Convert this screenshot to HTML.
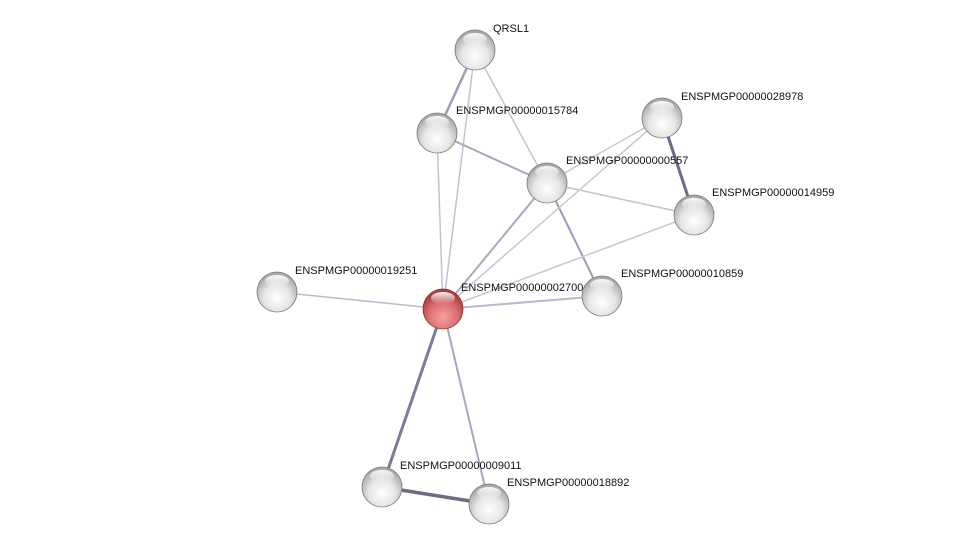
<!DOCTYPE html>
<html><head><meta charset="utf-8"><style>
html,body{margin:0;padding:0;background:#fff;}
svg{display:block}
text{font-family:"Liberation Sans",sans-serif;font-size:11px;fill:#111;}
</style></head><body>
<svg width="975" height="549" viewBox="0 0 975 549" xmlns="http://www.w3.org/2000/svg">
<defs>
<radialGradient id="g" cx="50%" cy="65%" r="60%">
<stop offset="0" stop-color="#ffffff"/><stop offset="0.55" stop-color="#e6e6e6"/><stop offset="1" stop-color="#a8a8a8"/>
</radialGradient>
<radialGradient id="r" cx="50%" cy="70%" r="60%">
<stop offset="0" stop-color="#f4a0a0"/><stop offset="0.6" stop-color="#dc7070"/><stop offset="1" stop-color="#a84040"/>
</radialGradient>
<linearGradient id="h" x1="0" y1="0" x2="0" y2="1">
<stop offset="0" stop-color="#fff" stop-opacity="0.95"/><stop offset="1" stop-color="#fff" stop-opacity="0"/>
</linearGradient>
</defs>
<g stroke-linecap="round">
<line x1="475" y1="50" x2="437" y2="133" stroke="#9a9cb8" stroke-width="2.5"/>
<line x1="475" y1="50" x2="547" y2="183" stroke="#c0c2d2" stroke-width="1.5"/>
<line x1="475" y1="50" x2="443" y2="309" stroke="#c0c2d2" stroke-width="1.5"/>
<line x1="437" y1="133" x2="547" y2="183" stroke="#a6a8c0" stroke-width="2"/>
<line x1="437" y1="133" x2="443" y2="309" stroke="#c0c2d2" stroke-width="1.5"/>
<line x1="547" y1="183" x2="443" y2="309" stroke="#a6a8c0" stroke-width="2"/>
<line x1="547" y1="183" x2="602" y2="296" stroke="#9a9cb8" stroke-width="2"/>
<line x1="547" y1="183" x2="694" y2="215" stroke="#c0c2d2" stroke-width="1.5"/>
<line x1="662" y1="118" x2="547" y2="183" stroke="#c4c6d6" stroke-width="1.5"/>
<line x1="662" y1="118" x2="443" y2="309" stroke="#c4c6d6" stroke-width="1.5"/>
<line x1="662" y1="118" x2="694" y2="215" stroke="#6a6c88" stroke-width="3"/>
<line x1="694" y1="215" x2="443" y2="309" stroke="#c4c6d6" stroke-width="1.5"/>
<line x1="277" y1="292" x2="443" y2="309" stroke="#b8bace" stroke-width="1.5"/>
<line x1="602" y1="296" x2="443" y2="309" stroke="#b8bace" stroke-width="2"/>
<line x1="443" y1="309" x2="382" y2="487" stroke="#7a7c98" stroke-width="3"/>
<line x1="443" y1="309" x2="489" y2="504" stroke="#a6a8c0" stroke-width="2"/>
<line x1="382" y1="487" x2="489" y2="504" stroke="#6a6c88" stroke-width="3.5"/>
</g>
<text x="493" y="32">QRSL1</text>
<text x="456" y="114">ENSPMGP00000015784</text>
<text x="566" y="164">ENSPMGP00000000557</text>
<text x="681" y="100">ENSPMGP00000028978</text>
<text x="712" y="196">ENSPMGP00000014959</text>
<text x="295" y="274">ENSPMGP00000019251</text>
<text x="461" y="291">ENSPMGP00000002700</text>
<text x="621" y="277">ENSPMGP00000010859</text>
<text x="400" y="469">ENSPMGP00000009011</text>
<text x="507" y="486">ENSPMGP00000018892</text>
<g>
<g transform="translate(475,50)"><circle r="20" fill="url(#g)" stroke="#777" stroke-width="0.8"/><ellipse cx="0" cy="-11" rx="12" ry="6" fill="url(#h)"/></g>
<g transform="translate(437,133)"><circle r="20" fill="url(#g)" stroke="#777" stroke-width="0.8"/><ellipse cx="0" cy="-11" rx="12" ry="6" fill="url(#h)"/></g>
<g transform="translate(547,183)"><circle r="20" fill="url(#g)" stroke="#777" stroke-width="0.8"/><ellipse cx="0" cy="-11" rx="12" ry="6" fill="url(#h)"/></g>
<g transform="translate(662,118)"><circle r="20" fill="url(#g)" stroke="#777" stroke-width="0.8"/><ellipse cx="0" cy="-11" rx="12" ry="6" fill="url(#h)"/></g>
<g transform="translate(694,215)"><circle r="20" fill="url(#g)" stroke="#777" stroke-width="0.8"/><ellipse cx="0" cy="-11" rx="12" ry="6" fill="url(#h)"/></g>
<g transform="translate(277,292)"><circle r="20" fill="url(#g)" stroke="#777" stroke-width="0.8"/><ellipse cx="0" cy="-11" rx="12" ry="6" fill="url(#h)"/></g>
<g transform="translate(602,296)"><circle r="20" fill="url(#g)" stroke="#777" stroke-width="0.8"/><ellipse cx="0" cy="-11" rx="12" ry="6" fill="url(#h)"/></g>
<g transform="translate(443,309)"><circle r="20" fill="url(#r)" stroke="#8a3030" stroke-width="0.8"/><ellipse cx="0" cy="-11" rx="12" ry="6" fill="url(#h)"/></g>
<g transform="translate(382,487)"><circle r="20" fill="url(#g)" stroke="#777" stroke-width="0.8"/><ellipse cx="0" cy="-11" rx="12" ry="6" fill="url(#h)"/></g>
<g transform="translate(489,504)"><circle r="20" fill="url(#g)" stroke="#777" stroke-width="0.8"/><ellipse cx="0" cy="-11" rx="12" ry="6" fill="url(#h)"/></g>
</g>
</svg>
</body></html>
